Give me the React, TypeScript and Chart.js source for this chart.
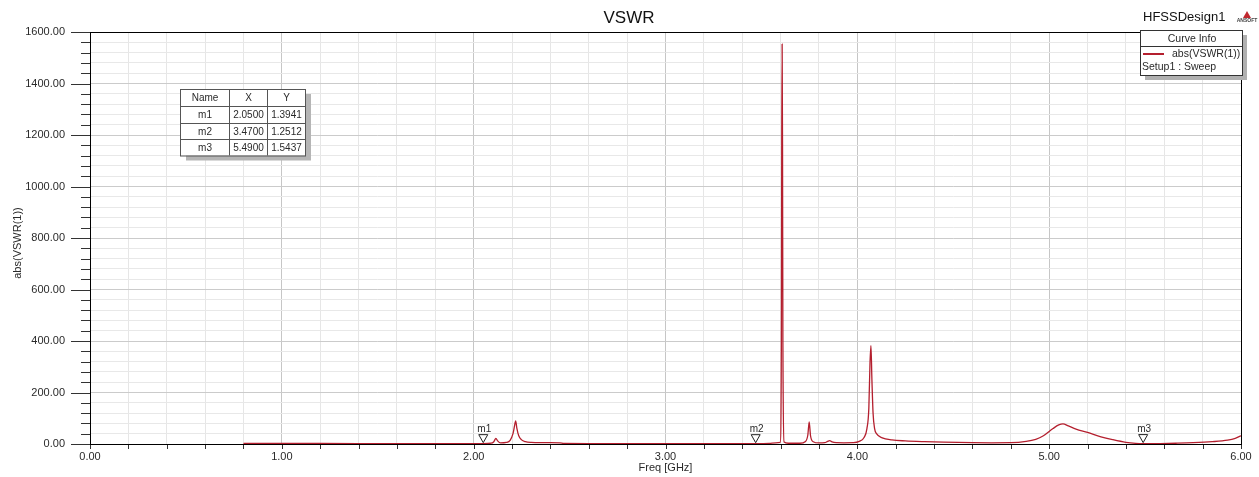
import React, { useEffect, useRef } from 'react';
import { Chart, registerables } from 'chart.js';

Chart.register(...registerables);

// ---- data ----
const freqs = [
  0.8, 0.9, 1.0, 1.2, 1.4, 1.6, 1.8, 1.95, 2.05, 2.09, 2.105, 2.116, 2.125, 2.14, 2.17, 2.19,
  2.205, 2.213, 2.219, 2.225, 2.235, 2.25, 2.27, 2.3, 2.35, 2.4, 2.45, 2.47, 2.6, 2.8, 3.0, 3.2,
  3.4, 3.47, 3.54, 3.575, 3.598, 3.604, 3.606, 3.608, 3.61, 3.612, 3.618, 3.64, 3.7, 3.73, 3.742,
  3.749, 3.756, 3.77, 3.8, 3.83, 3.845, 3.856, 3.868, 3.89, 3.93, 3.98, 4.01, 4.035, 4.05, 4.06,
  4.066, 4.071, 4.076, 4.082, 4.09, 4.1, 4.13, 4.18, 4.25, 4.35, 4.45, 4.6, 4.7, 4.8, 4.88, 4.93,
  4.97, 5.02, 5.05, 5.072, 5.1, 5.14, 5.2, 5.27, 5.33, 5.4, 5.45, 5.49, 5.58, 5.66, 5.75, 5.85,
  5.93, 5.97, 6.0,
];
const vswr = [
  2.6, 2.4, 2.2, 2.0, 1.8, 1.7, 1.6, 1.5, 1.39, 3, 9, 22, 12, 4, 6, 14,
  40, 70, 90, 62, 32, 16, 9, 6, 5, 5, 4.5, 2, 1.6, 1.4, 1.3, 1.3,
  1.3, 1.25, 2, 4.5, 6, 390, 1165, 1553, 1165, 390, 8, 3, 3, 10, 35,
  86, 32, 9, 4, 5, 10, 13, 8, 5, 4.5, 5, 10, 25, 60, 140,
  314, 382, 250, 120, 60, 40, 24, 16, 12, 9, 7, 5, 4.5, 5, 10, 18,
  32, 60, 74, 78, 70, 58, 45, 28, 17, 6.5, 2.5, 1.54, 1.8, 3, 5, 9,
  15, 22, 32,
];

const markerNames = ['m1', 'm2', 'm3'];
const markerFreq = [2.05, 3.47, 5.49];
const markerVswr = [1.3941, 1.2512, 1.5437];

const xTickValues = Array.from({ length: 31 }, (_, i) => i / 5);
const yTickValues = Array.from({ length: 41 }, (_, i) => i * 40);

const chartTitle = 'VSWR';
const designName = 'HFSSDesign1';
const seriesLabel = 'abs(VSWR(1))';
const setupLabel = 'Setup1 : Sweep';
const xTitle = 'Freq [GHz]';
const yTitle = 'abs(VSWR(1))';

// ---- styles ----
const FONT = '"Liberation Sans", Arial, Helvetica, sans-serif';
const LINE_COLOR = '#b41f2e';
const TEXT = '#2a2a2a';

const isMajorX = (v: number) => Math.abs(v - Math.round(v)) < 1e-6;
const isMajorY = (v: number) => Math.abs(v % 200) < 1e-6;

const decorPlugin = {
  id: 'decor',
  beforeDraw(chart: any) {
    const { ctx, width, height } = chart;
    ctx.save();
    ctx.fillStyle = '#ffffff';
    ctx.fillRect(0, 0, width, height);
    ctx.restore();
  },
  beforeDatasetsDraw(chart: any) {
    const { ctx, chartArea: a, scales } = chart;
    ctx.save();
    ctx.strokeStyle = '#333';
    ctx.lineWidth = 1;
    scales.y.ticks.forEach((t: any) => {
      const py = Math.round(scales.y.getPixelForValue(t.value)) + 0.5;
      const len = isMajorY(t.value) ? 19 : 9;
      ctx.beginPath();
      ctx.moveTo(a.left - len, py);
      ctx.lineTo(a.left, py);
      ctx.stroke();
    });
    scales.x.ticks.forEach((t: any) => {
      const px = Math.round(scales.x.getPixelForValue(t.value)) + 0.5;
      ctx.beginPath();
      ctx.moveTo(px, a.bottom);
      ctx.lineTo(px, a.bottom + 5);
      ctx.stroke();
    });
    ctx.strokeStyle = '#000';
    ctx.lineWidth = 1;
    ctx.strokeRect(Math.round(a.left) + 0.5, Math.round(a.top) + 0.5, Math.round(a.right - a.left), Math.round(a.bottom - a.top));
    ctx.restore();
  },
  afterDatasetsDraw(chart: any) {
    const { ctx, chartArea: a, scales } = chart;
    ctx.save();

    // title
    ctx.fillStyle = '#111';
    ctx.font = `17px ${FONT}`;
    ctx.textAlign = 'center';
    ctx.textBaseline = 'middle';
    ctx.fillText(chartTitle, 629, 18);

    // axis titles
    ctx.fillStyle = TEXT;
    ctx.font = `11px ${FONT}`;
    ctx.fillText(xTitle, (a.left + a.right) / 2, 468);
    ctx.save();
    ctx.translate(18, 243);
    ctx.rotate(-Math.PI / 2);
    ctx.fillText(yTitle, 0, 0);
    ctx.restore();

    // markers
    markerNames.forEach((name, i) => {
      const px = scales.x.getPixelForValue(markerFreq[i]);
      const py = scales.y.getPixelForValue(markerVswr[i]);
      ctx.strokeStyle = '#222';
      ctx.lineWidth = 1;
      ctx.beginPath();
      ctx.moveTo(px, py - 1);
      ctx.lineTo(px - 4.5, py - 9);
      ctx.lineTo(px + 4.5, py - 9);
      ctx.closePath();
      ctx.stroke();
      ctx.fillStyle = TEXT;
      ctx.font = `10px ${FONT}`;
      ctx.textAlign = 'center';
      ctx.textBaseline = 'middle';
      ctx.fillText(name, px + 1, py - 14);
    });

    // marker table
    const tx = 180, ty = 89;
    const colW = [49, 38, 38];
    const rowH = [17, 16.5, 16.5, 16.5];
    const tw = colW.reduce((s, v) => s + v, 0);
    const th = rowH.reduce((s, v) => s + v, 0);
    ctx.fillStyle = '#b5b5b5';
    ctx.fillRect(tx + 6, ty + 5, tw, th);
    ctx.fillStyle = '#fff';
    ctx.fillRect(tx, ty, tw, th);
    ctx.strokeStyle = '#555';
    ctx.lineWidth = 1;
    ctx.strokeRect(tx + 0.5, ty + 0.5, tw, th);
    let cx = tx;
    for (let c = 0; c < colW.length - 1; c++) {
      cx += colW[c];
      ctx.beginPath();
      ctx.moveTo(Math.round(cx) + 0.5, ty);
      ctx.lineTo(Math.round(cx) + 0.5, ty + th);
      ctx.stroke();
    }
    let ry = ty;
    for (let r = 0; r < rowH.length - 1; r++) {
      ry += rowH[r];
      ctx.beginPath();
      ctx.moveTo(tx, Math.round(ry) + 0.5);
      ctx.lineTo(tx + tw, Math.round(ry) + 0.5);
      ctx.stroke();
    }
    const rows = [['Name', 'X', 'Y']].concat(
      markerNames.map((n, i) => [n, markerFreq[i].toFixed(4), markerVswr[i].toFixed(4)])
    );
    ctx.font = `10px ${FONT}`;
    ctx.fillStyle = TEXT;
    ctx.textAlign = 'center';
    ctx.textBaseline = 'middle';
    let yy = ty;
    rows.forEach((row, r) => {
      let xx = tx;
      row.forEach((cell, c) => {
        ctx.fillText(cell, xx + colW[c] / 2 + 0.5, yy + rowH[r] / 2 + 1);
        xx += colW[c];
      });
      yy += rowH[r];
    });

    // design name + logo
    ctx.fillStyle = '#111';
    ctx.font = `13px ${FONT}`;
    ctx.textAlign = 'left';
    ctx.fillText(designName, 1143, 17);
    ctx.fillStyle = '#c0282e';
    ctx.beginPath();
    ctx.moveTo(1247, 11);
    ctx.lineTo(1243, 18);
    ctx.lineTo(1251, 18);
    ctx.closePath();
    ctx.fill();
    ctx.fillStyle = '#444';
    ctx.font = `bold 5px ${FONT}`;
    ctx.textAlign = 'center';
    ctx.fillText('ANSOFT', 1247, 21);

    // curve info box
    const lx = 1140, ly = 30, lw = 102, lh = 45;
    ctx.fillStyle = '#b0b0b0';
    ctx.fillRect(lx + 5, ly + 5, lw, lh);
    ctx.fillStyle = '#fff';
    ctx.fillRect(lx, ly, lw, lh);
    ctx.strokeStyle = '#333';
    ctx.strokeRect(lx + 0.5, ly + 0.5, lw, lh);
    ctx.beginPath();
    ctx.moveTo(lx, ly + 16.5);
    ctx.lineTo(lx + lw, ly + 16.5);
    ctx.stroke();
    ctx.fillStyle = TEXT;
    ctx.font = `10.5px ${FONT}`;
    ctx.textAlign = 'center';
    ctx.fillText('Curve Info', lx + lw / 2 + 1, ly + 9);
    ctx.strokeStyle = LINE_COLOR;
    ctx.lineWidth = 2;
    ctx.beginPath();
    ctx.moveTo(1143, 54);
    ctx.lineTo(1164, 54);
    ctx.stroke();
    ctx.textAlign = 'left';
    ctx.fillText(seriesLabel, 1172, 54);
    ctx.fillText(setupLabel, 1142, 67);

    ctx.restore();
  },
};

export default function App() {
  const canvasRef = useRef<HTMLCanvasElement | null>(null);

  useEffect(() => {
    document.body.style.margin = '0';
    const canvas = canvasRef.current;
    if (!canvas) return;
    const chart = new Chart(canvas, {
      type: 'line',
      data: {
        datasets: [
          {
            label: seriesLabel,
            data: freqs.map((f, i) => ({ x: f, y: vswr[i] })),
            borderColor: LINE_COLOR,
            borderWidth: 1.3,
            pointRadius: 0,
            fill: false,
            cubicInterpolationMode: 'monotone',
          },
        ],
      },
      options: {
        responsive: false,
        animation: false,
        devicePixelRatio: 1,
        layout: { padding: { left: 0, right: 18, top: 32, bottom: 0 } },
        plugins: {
          legend: { display: false },
          title: { display: false },
          tooltip: { enabled: false },
        },
        scales: {
          x: {
            type: 'linear',
            min: 0,
            max: 6,
            afterBuildTicks: (s: any) => {
              s.ticks = xTickValues.map((v) => ({ value: v }));
            },
            afterFit: (s: any) => {
              s.height = 33;
            },
            ticks: {
              autoSkip: false,
              maxRotation: 0,
              padding: 6,
              color: TEXT,
              font: { family: FONT, size: 11 },
              callback: (v: any) => (isMajorX(Number(v)) ? Number(v).toFixed(2) : ''),
            },
            grid: {
              drawTicks: false,
              color: (c: any) => (c.tick && isMajorX(c.tick.value) ? '#c6c6c6' : '#e6e6e6'),
              lineWidth: 1,
            },
            border: { display: false },
          },
          y: {
            type: 'linear',
            min: 0,
            max: 1600,
            afterBuildTicks: (s: any) => {
              s.ticks = yTickValues.map((v) => ({ value: v }));
            },
            afterFit: (s: any) => {
              s.width = 90;
            },
            ticks: {
              autoSkip: false,
              padding: 25,
              color: TEXT,
              font: { family: FONT, size: 11 },
              callback: (v: any) => (isMajorY(Number(v)) ? Number(v).toFixed(2) : ''),
            },
            grid: {
              drawTicks: false,
              color: (c: any) => (c.tick && isMajorY(c.tick.value) ? '#cbcbcb' : '#e8e8e8'),
              lineWidth: 1,
            },
            border: { display: false },
          },
        },
      },
      plugins: [decorPlugin],
    } as any);
    return () => chart.destroy();
  }, []);

  return (
    <div style={{ position: 'fixed', left: 0, top: 0, width: 1259, height: 477, background: '#fff' }}>
      <canvas ref={canvasRef} width={1259} height={477} style={{ display: 'block' }} />
    </div>
  );
}
